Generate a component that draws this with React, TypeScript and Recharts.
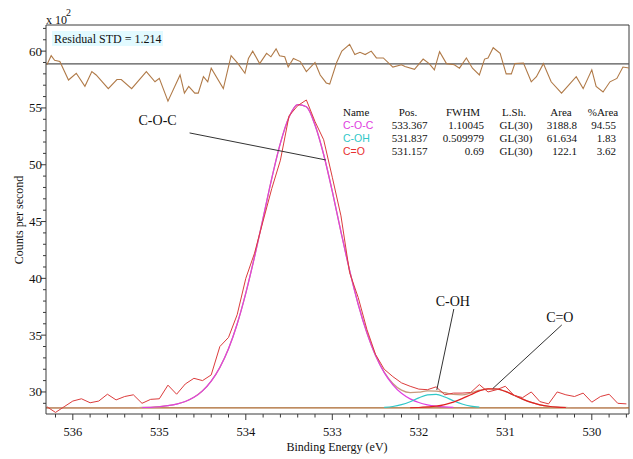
import React from 'react';
import { LineChart, Line, XAxis, YAxis, ReferenceLine, ReferenceDot } from 'recharts';

// ---------- data ----------
const energy = [536.3, 536.2, 536.1, 536.0, 535.9, 535.8, 535.7, 535.6, 535.5, 535.4, 535.3, 535.2, 535.1, 535.0, 534.9, 534.8, 534.7, 534.6, 534.5, 534.4, 534.3, 534.2, 534.1, 534.0, 533.9, 533.8, 533.7, 533.6, 533.5, 533.4, 533.3, 533.2, 533.1, 533.0, 532.9, 532.8, 532.7, 532.6, 532.5, 532.4, 532.3, 532.2, 532.1, 532.0, 531.9, 531.8, 531.7, 531.6, 531.5, 531.4, 531.3, 531.2, 531.1, 531.0, 530.9, 530.8, 530.7, 530.6, 530.5, 530.4, 530.3, 530.2, 530.1, 530.0, 529.9, 529.8, 529.7, 529.6];

const rawCounts = [28.7, 28.2, 28.7, 29.2, 29.4, 29.05, 29.2, 29.8, 29.3, 29.6, 29.75, 29.0, 29.35, 29.4, 30.6, 29.8, 30.7, 31.2, 31.0, 31.5, 34.0, 34.8, 36.8, 40.0, 42.2, 45.05, 47.9, 50.4, 54.3, 55.2, 55.7, 53.8, 52.2, 48.9, 45.5, 40.5, 38.3, 35.5, 33.3, 32.0, 31.35, 30.8, 30.5, 30.25, 30.2, 30.45, 29.75, 29.9, 29.9, 29.95, 30.65, 30.0, 30.2, 30.5, 29.7, 29.5, 30.0, 29.15, 28.95, 30.0, 29.75, 29.6, 29.9, 29.1, 29.6, 29.8, 29.0, 28.95];

const envelopeCounts = [28.6, 28.6, 28.6, 28.6, 28.6, 28.6, 28.6, 28.6, 28.6, 28.6, 28.6, 28.63, 28.65, 28.7, 28.79, 28.93, 29.16, 29.53, 30.1, 30.95, 32.16, 33.8, 35.98, 38.7, 41.86, 45.3, 48.8, 51.9, 54.2, 55.3, 55.1, 53.5, 50.9, 47.65, 44.1, 40.7, 37.7, 35.2, 33.2, 31.75, 30.75, 30.16, 29.94, 29.98, 30.09, 30.08, 29.93, 29.78, 29.75, 29.91, 30.15, 30.28, 30.26, 30.05, 29.71, 29.37, 29.08, 28.87, 28.74, 28.67, 28.63, 28.6, 28.6, 28.6, 28.6, 28.6, 28.6, 28.6];

const cocEnergy = [535.2, 535.1, 535.0, 534.9, 534.8, 534.7, 534.6, 534.5, 534.4, 534.3, 534.2, 534.1, 534.0, 533.9, 533.8, 533.7, 533.6, 533.5, 533.4, 533.3, 533.2, 533.1, 533.0, 532.9, 532.8, 532.7, 532.6, 532.5, 532.4, 532.3, 532.2, 532.1, 532.0, 531.9, 531.8, 531.7, 531.6];
const cocCounts = [28.63, 28.65, 28.7, 28.79, 28.93, 29.16, 29.53, 30.1, 30.95, 32.16, 33.8, 35.98, 38.7, 41.86, 45.3, 48.8, 51.9, 54.2, 55.3, 55.1, 53.5, 50.9, 47.65, 44.1, 40.7, 37.7, 35.2, 33.2, 31.7, 30.63, 29.88, 29.39, 29.07, 28.87, 28.75, 28.68, 28.64];

const cohEnergy = [532.4, 532.3, 532.2, 532.1, 532.0, 531.9, 531.8, 531.7, 531.6, 531.5, 531.4, 531.3];
const cohCounts = [28.65, 28.72, 28.88, 29.14, 29.48, 29.74, 29.78, 29.56, 29.23, 28.94, 28.75, 28.66];

const coEnergy = [532.1, 532.0, 531.9, 531.8, 531.7, 531.6, 531.5, 531.4, 531.3, 531.2, 531.1, 531.0, 530.9, 530.8, 530.7, 530.6, 530.5, 530.4, 530.3];
const coCounts = [28.61, 28.63, 28.68, 28.75, 28.89, 29.11, 29.41, 29.76, 30.09, 30.28, 30.26, 30.05, 29.71, 29.37, 29.08, 28.87, 28.74, 28.67, 28.63];

const backgroundEnergy = [536.31, 529.57];
const backgroundCounts = [28.6, 28.6];

const residualEnergy = [536.3, 536.25, 536.21, 536.15, 536.05, 535.96, 535.86, 535.78, 535.73, 535.59, 535.49, 535.44, 535.32, 535.15, 535.05, 535.0, 534.9, 534.76, 534.71, 534.66, 534.59, 534.55, 534.49, 534.44, 534.4, 534.26, 534.17, 534.09, 534.01, 533.97, 533.92, 533.84, 533.76, 533.71, 533.65, 533.61, 533.55, 533.51, 533.45, 533.37, 533.3, 533.2, 533.14, 533.07, 533.03, 532.95, 532.89, 532.8, 532.74, 532.68, 532.62, 532.55, 532.49, 532.41, 532.3, 532.2, 532.16, 532.05, 531.95, 531.88, 531.82, 531.76, 531.68, 531.59, 531.53, 531.45, 531.38, 531.3, 531.24, 531.2, 531.14, 531.06, 530.99, 530.93, 530.89, 530.79, 530.7, 530.64, 530.56, 530.47, 530.35, 530.18, 530.1, 530.0, 529.95, 529.87, 529.79, 529.71, 529.64, 529.56];
const residualCounts = [58.79, 59.6, 59.2, 59.08, 57.46, 58.05, 56.9, 58.2, 57.9, 56.7, 57.5, 57.5, 56.7, 58.2, 57.3, 57.6, 55.6, 57.9, 56.3, 56.9, 56.3, 56.3, 57.75, 57.3, 58.5, 56.7, 59.6, 58.9, 58.05, 59.35, 60.0, 58.9, 59.8, 59.5, 60.2, 59.6, 59.5, 58.6, 59.35, 59.08, 58.2, 59.0, 57.9, 57.2, 57.1, 59.0, 60.0, 60.6, 59.7, 59.9, 59.7, 60.0, 59.4, 59.4, 58.6, 58.8, 58.65, 58.4, 59.3, 58.9, 58.35, 59.95, 58.9, 58.8, 58.5, 59.4, 58.5, 57.9, 59.3, 59.4, 60.3, 59.8, 58.0, 58.0, 58.9, 58.95, 57.3, 57.75, 58.9, 57.3, 56.3, 57.75, 56.7, 58.35, 56.9, 56.4, 57.3, 57.6, 58.6, 58.5];
const residualZero = 58.87;

const xTicks = [536.2, 536.0, 535.8, 535.6, 535.4, 535.2, 535.0, 534.8, 534.6, 534.4, 534.2, 534.0, 533.8, 533.6, 533.4, 533.2, 533.0, 532.8, 532.6, 532.4, 532.2, 532.0, 531.8, 531.6, 531.4, 531.2, 531.0, 530.8, 530.6, 530.4, 530.2, 530.0, 529.8, 529.6];
const yTicks = [29, 30, 31, 32, 33, 34, 35, 36, 37, 38, 39, 40, 41, 42, 43, 44, 45, 46, 47, 48, 49, 50, 51, 52, 53, 54, 55, 56, 57, 58, 59, 60, 61, 62];

const peakNames = ['C-O-C', 'C-OH', 'C=O'];
const peakPos = ['533.367', '531.837', '531.157'];
const peakFwhm = ['1.10045', '0.509979', '0.69'];
const peakShape = ['GL(30)', 'GL(30)', 'GL(30)'];
const peakArea = ['3188.8', '61.634', '122.1'];
const peakPct = ['94.55', '1.83', '3.62'];
const peakColors = ['#E040E0', '#30C8C8', '#E83030'];

// annotation anchors in data units (energy, counts)
const annotLabels = ['C-O-C', 'C-OH', 'C=O'];
const annotLabelE = [535.02, 531.607, 530.37];
const annotLabelV = [53.94, 38.0, 36.6];
const annotFromE = [534.65, 531.595, 530.347];
const annotFromV = [52.8, 37.3, 35.9];
const annotToE = [533.075, 531.792, 531.145];
const annotToV = [50.42, 30.18, 30.3];

const X_DOMAIN: [number, number] = [529.57, 536.31];
const Y_DOMAIN: [number, number] = [28.06, 62.3];

const zip = (es: number[], vs: number[]) => es.map((e, i) => ({ e, v: vs[i] }));
const rawData = zip(energy, rawCounts);
const envData = zip(energy, envelopeCounts);
const cocData = zip(cocEnergy, cocCounts);
const cohData = zip(cohEnergy, cohCounts);
const coData = zip(coEnergy, coCounts);
const bgData = zip(backgroundEnergy, backgroundCounts);
const resData = zip(residualEnergy, residualCounts);

const SERIF = "'Liberation Serif', 'Times New Roman', serif";
const SANS = "'Liberation Sans', Arial, sans-serif";
const AXIS = '#3a3a3a';

const XTick = (props: any) => {
  const { x, y, payload } = props;
  const v = payload.value as number;
  const major = Math.abs(v - Math.round(v)) < 1e-6;
  return (
    <g>
      <line x1={x} x2={x} y1={y} y2={y + (major ? 6 : 3.5)} stroke={AXIS} strokeWidth={1} />
      {major && (
        <text x={x} y={y + 22} textAnchor="middle" fontSize={12.5} fontFamily={SERIF} fill="#111">
          {Math.round(v)}
        </text>
      )}
    </g>
  );
};

const YTick = (props: any) => {
  const { x, y, payload } = props;
  const v = payload.value as number;
  const r = Math.round(v);
  const major = r % 5 === 0;
  return (
    <g>
      <line x1={x} x2={x - (major ? 5 : 3)} y1={y} y2={y} stroke={AXIS} strokeWidth={1} />
      {major && (
        <text x={x - 4} y={y + 4.5} textAnchor="end" fontSize={13} fontFamily={SERIF} fill="#111">
          {r}
        </text>
      )}
    </g>
  );
};

const colX = { name: 343, pos: 427.5, fwhm: 484, lsh: 516, area: 577, pct: 616 };
const hdrX = { pos: 408, fwhm: 463, lsh: 514, area: 561, pct: 603 };
const rowY = [128.5, 142, 155];

export default function App() {
  return (
    <div style={{ position: 'absolute', left: 0, top: 0, width: 633, height: 459, background: '#fff' }}>
      <LineChart width={633} height={459} margin={{ top: 25, right: 4, left: 0, bottom: 0 }}>
        <XAxis
          dataKey="e"
          type="number"
          domain={X_DOMAIN}
          reversed
          allowDataOverflow
          ticks={xTicks}
          interval={0}
          tickSize={0}
          tickMargin={0}
          tickLine={false}
          tick={<XTick />}
          height={45}
          axisLine={{ stroke: AXIS, strokeWidth: 1 }}
        />
        <YAxis
          type="number"
          domain={Y_DOMAIN}
          allowDataOverflow
          ticks={yTicks}
          interval={0}
          tickSize={0}
          tickMargin={0}
          tickLine={false}
          tick={<YTick />}
          width={46}
          axisLine={{ stroke: AXIS, strokeWidth: 1 }}
        />
        <ReferenceLine y={Y_DOMAIN[1]} stroke={AXIS} strokeWidth={1} />
        <ReferenceLine x={X_DOMAIN[0]} stroke={AXIS} strokeWidth={1} />
        <ReferenceLine y={residualZero} stroke="#555" strokeWidth={1.3} />

        <Line data={bgData} dataKey="v" type="linear" stroke="#A8642A" strokeWidth={1.3} dot={false} isAnimationActive={false} />
        <Line data={envData} dataKey="v" type="monotone" stroke="#C89A7C" strokeWidth={1.3} dot={false} isAnimationActive={false} />
        <Line data={cocData} dataKey="v" type="monotone" stroke="#E040E0" strokeWidth={1.2} dot={false} isAnimationActive={false} />
        <Line data={cohData} dataKey="v" type="monotone" stroke="#30C8C8" strokeWidth={1.2} dot={false} isAnimationActive={false} />
        <Line data={coData} dataKey="v" type="monotone" stroke="#E02020" strokeWidth={1.2} dot={false} isAnimationActive={false} />
        <Line data={rawData} dataKey="v" type="linear" stroke="#DC3C3C" strokeWidth={1} dot={false} isAnimationActive={false} />
        <Line data={resData} dataKey="v" type="linear" stroke="#B07A48" strokeWidth={1.1} dot={false} isAnimationActive={false} />

        {annotLabels.map((lab, i) => (
          <ReferenceLine
            key={'seg' + i}
            segment={[{ x: annotFromE[i], y: annotFromV[i] }, { x: annotToE[i], y: annotToV[i] }]}
            stroke="#333"
            strokeWidth={1}
          />
        ))}
        {annotLabels.map((lab, i) => (
          <ReferenceDot
            key={'lab' + i}
            x={annotLabelE[i]}
            y={annotLabelV[i]}
            r={0}
            stroke="none"
            fill="none"
            label={{ value: lab, position: 'center', fontSize: 14, fontFamily: SERIF, fill: '#111' }}
          />
        ))}
      </LineChart>

      <svg width={633} height={459} style={{ position: 'absolute', left: 0, top: 0, pointerEvents: 'none' }}>
        <text x={46} y={24} fontSize={12} fontFamily={SERIF} fill="#111">x 10</text>
        <text x={66} y={16} fontSize={10} fontFamily={SERIF} fill="#111">2</text>

        <rect x={52} y={31} width={111} height={15} fill="#E2FAFF" />
        <text x={54} y={43} fontSize={12} fontFamily={SERIF} fill="#111">Residual STD = 1.214</text>

        <text transform="translate(23,220) rotate(-90)" textAnchor="middle" fontSize={12} fontFamily={SERIF} fill="#111">
          Counts per second
        </text>
        <text x={337} y={451} textAnchor="middle" fontSize={12} fontFamily={SERIF} fill="#111">
          Binding Energy (eV)
        </text>

        <g fontFamily={SERIF} fontSize={11} fill="#111">
          <text x={colX.name} y={116}>Name</text>
          <text x={hdrX.pos} y={116} textAnchor="middle">Pos.</text>
          <text x={hdrX.fwhm} y={116} textAnchor="middle">FWHM</text>
          <text x={hdrX.lsh} y={116} textAnchor="middle">L.Sh.</text>
          <text x={hdrX.area} y={116} textAnchor="middle">Area</text>
          <text x={hdrX.pct} y={116} textAnchor="middle">%Area</text>
          {peakNames.map((n, i) => (
            <g key={n}>
              <text x={colX.name} y={rowY[i]} fill={peakColors[i]} fontFamily={SANS} fontSize={10.5}>{n}</text>
              <text x={colX.pos} y={rowY[i]} textAnchor="end">{peakPos[i]}</text>
              <text x={colX.fwhm} y={rowY[i]} textAnchor="end">{peakFwhm[i]}</text>
              <text x={colX.lsh} y={rowY[i]} textAnchor="middle">{peakShape[i]}</text>
              <text x={colX.area} y={rowY[i]} textAnchor="end">{peakArea[i]}</text>
              <text x={colX.pct} y={rowY[i]} textAnchor="end">{peakPct[i]}</text>
            </g>
          ))}
        </g>
      </svg>
    </div>
  );
}
